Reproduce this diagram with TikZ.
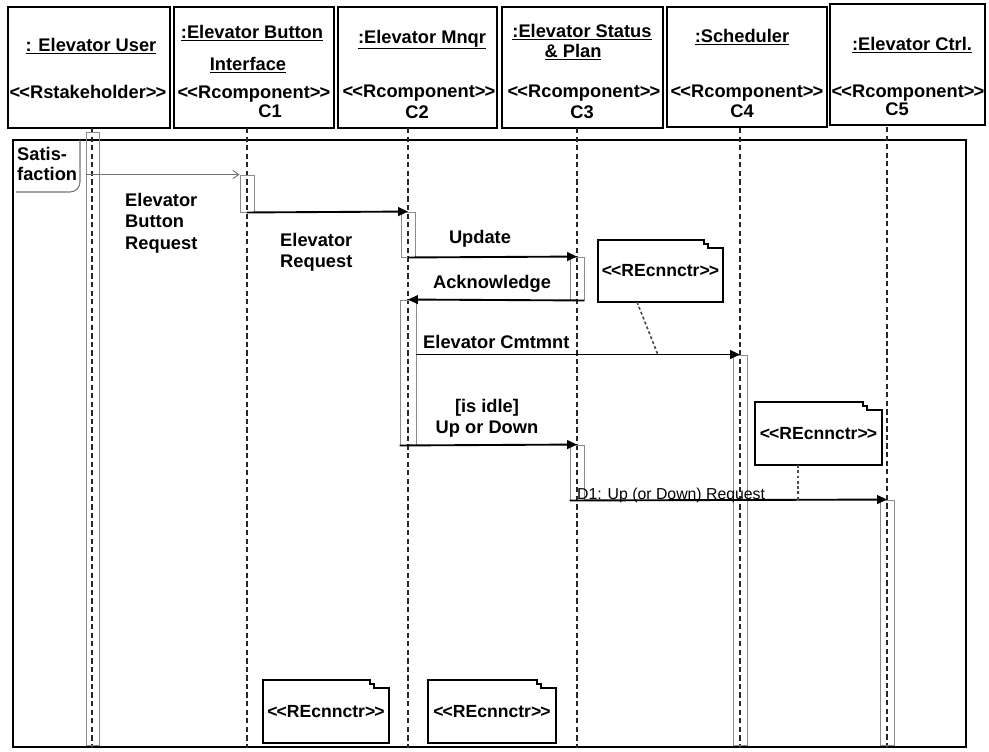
\documentclass[tikz,border=0pt]{standalone}
\usepackage{fontspec}
\setmainfont{Liberation Sans}
\usetikzlibrary{arrows.meta,fit}

% stereotype brackets (kept apart so they are not turned into guillemets)
\newcommand\stleft{<\kern-0.05em<}
\newcommand\stright{>\kern-0.05em>}
\newcommand\lblfont{\fontsize{15.6}{18.3}\selectfont\bfseries}

% connector note with a stepped top-right corner: name, x1, y1, x2, y2
\newcommand\notebox[5]{%
  \draw[noteline] (#2,#3) -- (#4-19,#3) -- (#4-19,#3+4) -- (#4-15,#3+4)
    -- (#4-15,#3+8) -- (#4,#3+8) -- (#4,#5) -- (#2,#5) -- cycle;
  \node[notetxt] (#1) at ({(#2+#4)/2},{(#3+#5)/2}) {\stleft REcnnctr\stright};}

\begin{document}
\begin{tikzpicture}[x=0.03cm,y=-0.03cm,
  hdr/.style={draw, line width=1.6pt, inner sep=0pt},
  txt/.style={font=\lblfont, inner sep=0pt},
  frm/.style={draw, line width=1.5pt, inner sep=0pt},
  tab/.style={draw=black!55, line width=0.9pt, rounded corners=0.3cm},
  lifeline/.style={draw=black!85, line width=1.8pt, dash pattern=on 4.5pt off 2.8pt},
  actbox/.style={draw=black!45, line width=0.8pt, inner sep=0pt},
  msg/.style={line width=1.6pt, -{Triangle[length=8.5pt,width=7.5pt]}},
  firstmsg/.style={draw=black!55, line width=0.8pt, -{Straight Barb[length=5pt,width=7pt]}},
  noteline/.style={draw, line width=1.5pt},
  notetxt/.style={font=\fontsize{15}{18}\selectfont\bfseries, inner sep=0pt},
  anchorline/.style={draw=black!70, line width=1.4pt, dash pattern=on 2.5pt off 2pt},
  d1txt/.style={font=\fontsize{13.5}{16}\selectfont, inner sep=0pt}
]
\useasboundingbox (0,0) rectangle (989,751);

% interaction frame and its tab
\node[frm, fit={(13,140) (966,747)}] (frame) {};
\draw[tab] (80,140) -- (80,192) -- (16,192);
\node[txt, anchor=north west, align=left, font=\fontsize{15.6}{17.5}\selectfont\bfseries] (tabtxt) at (17,147) {Satis-\\faction};

% participant heads
\node[hdr, fit={(8,7) (170,128)}] (h0) {};
\node[hdr, fit={(174,7) (334,128)}] (h1) {};
\node[hdr, fit={(338,7) (497,128)}] (h2) {};
\node[hdr, fit={(502,7) (663,128)}] (h3) {};
\node[hdr, fit={(667,7) (827,127)}] (h4) {};
\node[hdr, fit={(830,4) (985,125)}] (h5) {};

\node[txt, anchor=base] (h0a) at (91,51) {\underline{: Elevator User}};
\node[txt, anchor=base] (h0b) at (88,98) {\stleft Rstakeholder\stright};

\node[txt, anchor=base] (h1a) at (252,38) {\underline{:Elevator Button}};
\node[txt, anchor=base] (h1b) at (248,70) {\underline{Interface}};
\node[txt, anchor=base] (h1c) at (254,98) {\stleft Rcomponent\stright};
\node[txt, anchor=base] (h1d) at (270,117) {C1};

\node[txt, anchor=base] (h2a) at (422,43) {\underline{:Elevator Mnqr}};
\node[txt, anchor=base] (h2c) at (419,97) {\stleft Rcomponent\stright};
\node[txt, anchor=base] (h2d) at (417,118) {C2};

\node[txt, anchor=base] (h3a) at (582,37) {\underline{:Elevator Status}};
\node[txt, anchor=base] (h3b) at (573,57) {\underline{\& Plan}};
\node[txt, anchor=base] (h3c) at (584,97) {\stleft Rcomponent\stright};
\node[txt, anchor=base] (h3d) at (582,118) {C3};

\node[txt, anchor=base] (h4a) at (742,42) {\underline{:Scheduler}};
\node[txt, anchor=base] (h4c) at (747,97) {\stleft Rcomponent\stright};
\node[txt, anchor=base] (h4d) at (742,117) {C4};

\node[txt, anchor=base] (h5a) at (912,50) {\underline{:Elevator Ctrl.}};
\node[txt, anchor=base] (h5c) at (908,97) {\stleft Rcomponent\stright};
\node[txt, anchor=base] (h5d) at (897,115) {C5};

% lifelines
\coordinate (lu) at (92,128);
\coordinate (l1) at (247,128);
\coordinate (l2) at (408,128);
\coordinate (l3) at (577,128);
\coordinate (l4) at (740,128);
\coordinate (l5) at (887,127);
\foreach \l in {lu,l1,l2,l3,l4,l5}
  \draw[lifeline] (\l) -- (\l |- frame.south);

% activation boxes
\node[actbox, fit={(86,132) (99,745)}] (ua) {};
\node[actbox, fit={(240,175) (254,212)}] (c1a) {};
\node[actbox, fit={(401,212) (415,257)}] (c2a) {};
\node[actbox, fit={(570,257) (584,300)}] (c3a) {};
\node[actbox, fit={(400,300) (416,445)}] (c2b) {};
\node[actbox, fit={(570,445) (584,500)}] (c3b) {};
\node[actbox, fit={(733,355) (747,745)}] (c4a) {};
\node[actbox, fit={(880,500) (894,745)}] (c5a) {};

% messages
\draw[firstmsg] (ua.west |- c1a.north) -- (c1a.north west);
\draw[msg] (c1a.south) -- (c2a.north);
\draw[msg] (c2a.south) -- (c3a.north);
\draw[msg] (c3a.south east) -- (c2b.north);
\draw[msg] (c2b.east |- c4a.north) -- (c4a.north);
\draw[msg] (c2b.south west) -- (c3b.north);
\draw[msg] (c3b.south west) -- (c5a.north);

% message labels
\node[txt, anchor=north west, align=left] (m1) at (125,193) {Elevator\\Button\\Request};
\node[txt, anchor=north west, align=left] (m2) at (280,233) {Elevator\\Request};
\node[txt, anchor=north] (m3) at (480,230) {Update};
\node[txt, anchor=north] (m4) at (492,275) {Acknowledge};
\node[txt, anchor=north west] (m5) at (423,335) {Elevator Cmtmnt};
\node[txt, anchor=north, align=center] (m6) at (487,399) {[is idle]\\Up or Down};
\node[d1txt, anchor=base west] (m7) at (577,499) {D1: Up (or Down) Request};

% connector notes
\notebox{n1}{598}{240}{723}{302}
\notebox{n2}{755}{402}{882}{465}
\notebox{n3}{263}{680}{389}{743}
\notebox{n4}{428}{680}{556}{743}

\coordinate (k1a) at (637,302);
\coordinate (k1b) at (658,355);
\draw[anchorline] (k1a) -- (k1b);
\coordinate (k2a) at (798,465);
\coordinate (k2b) at (798,500);
\draw[anchorline] (k2a) -- (k2b);
\end{tikzpicture}
\end{document}
